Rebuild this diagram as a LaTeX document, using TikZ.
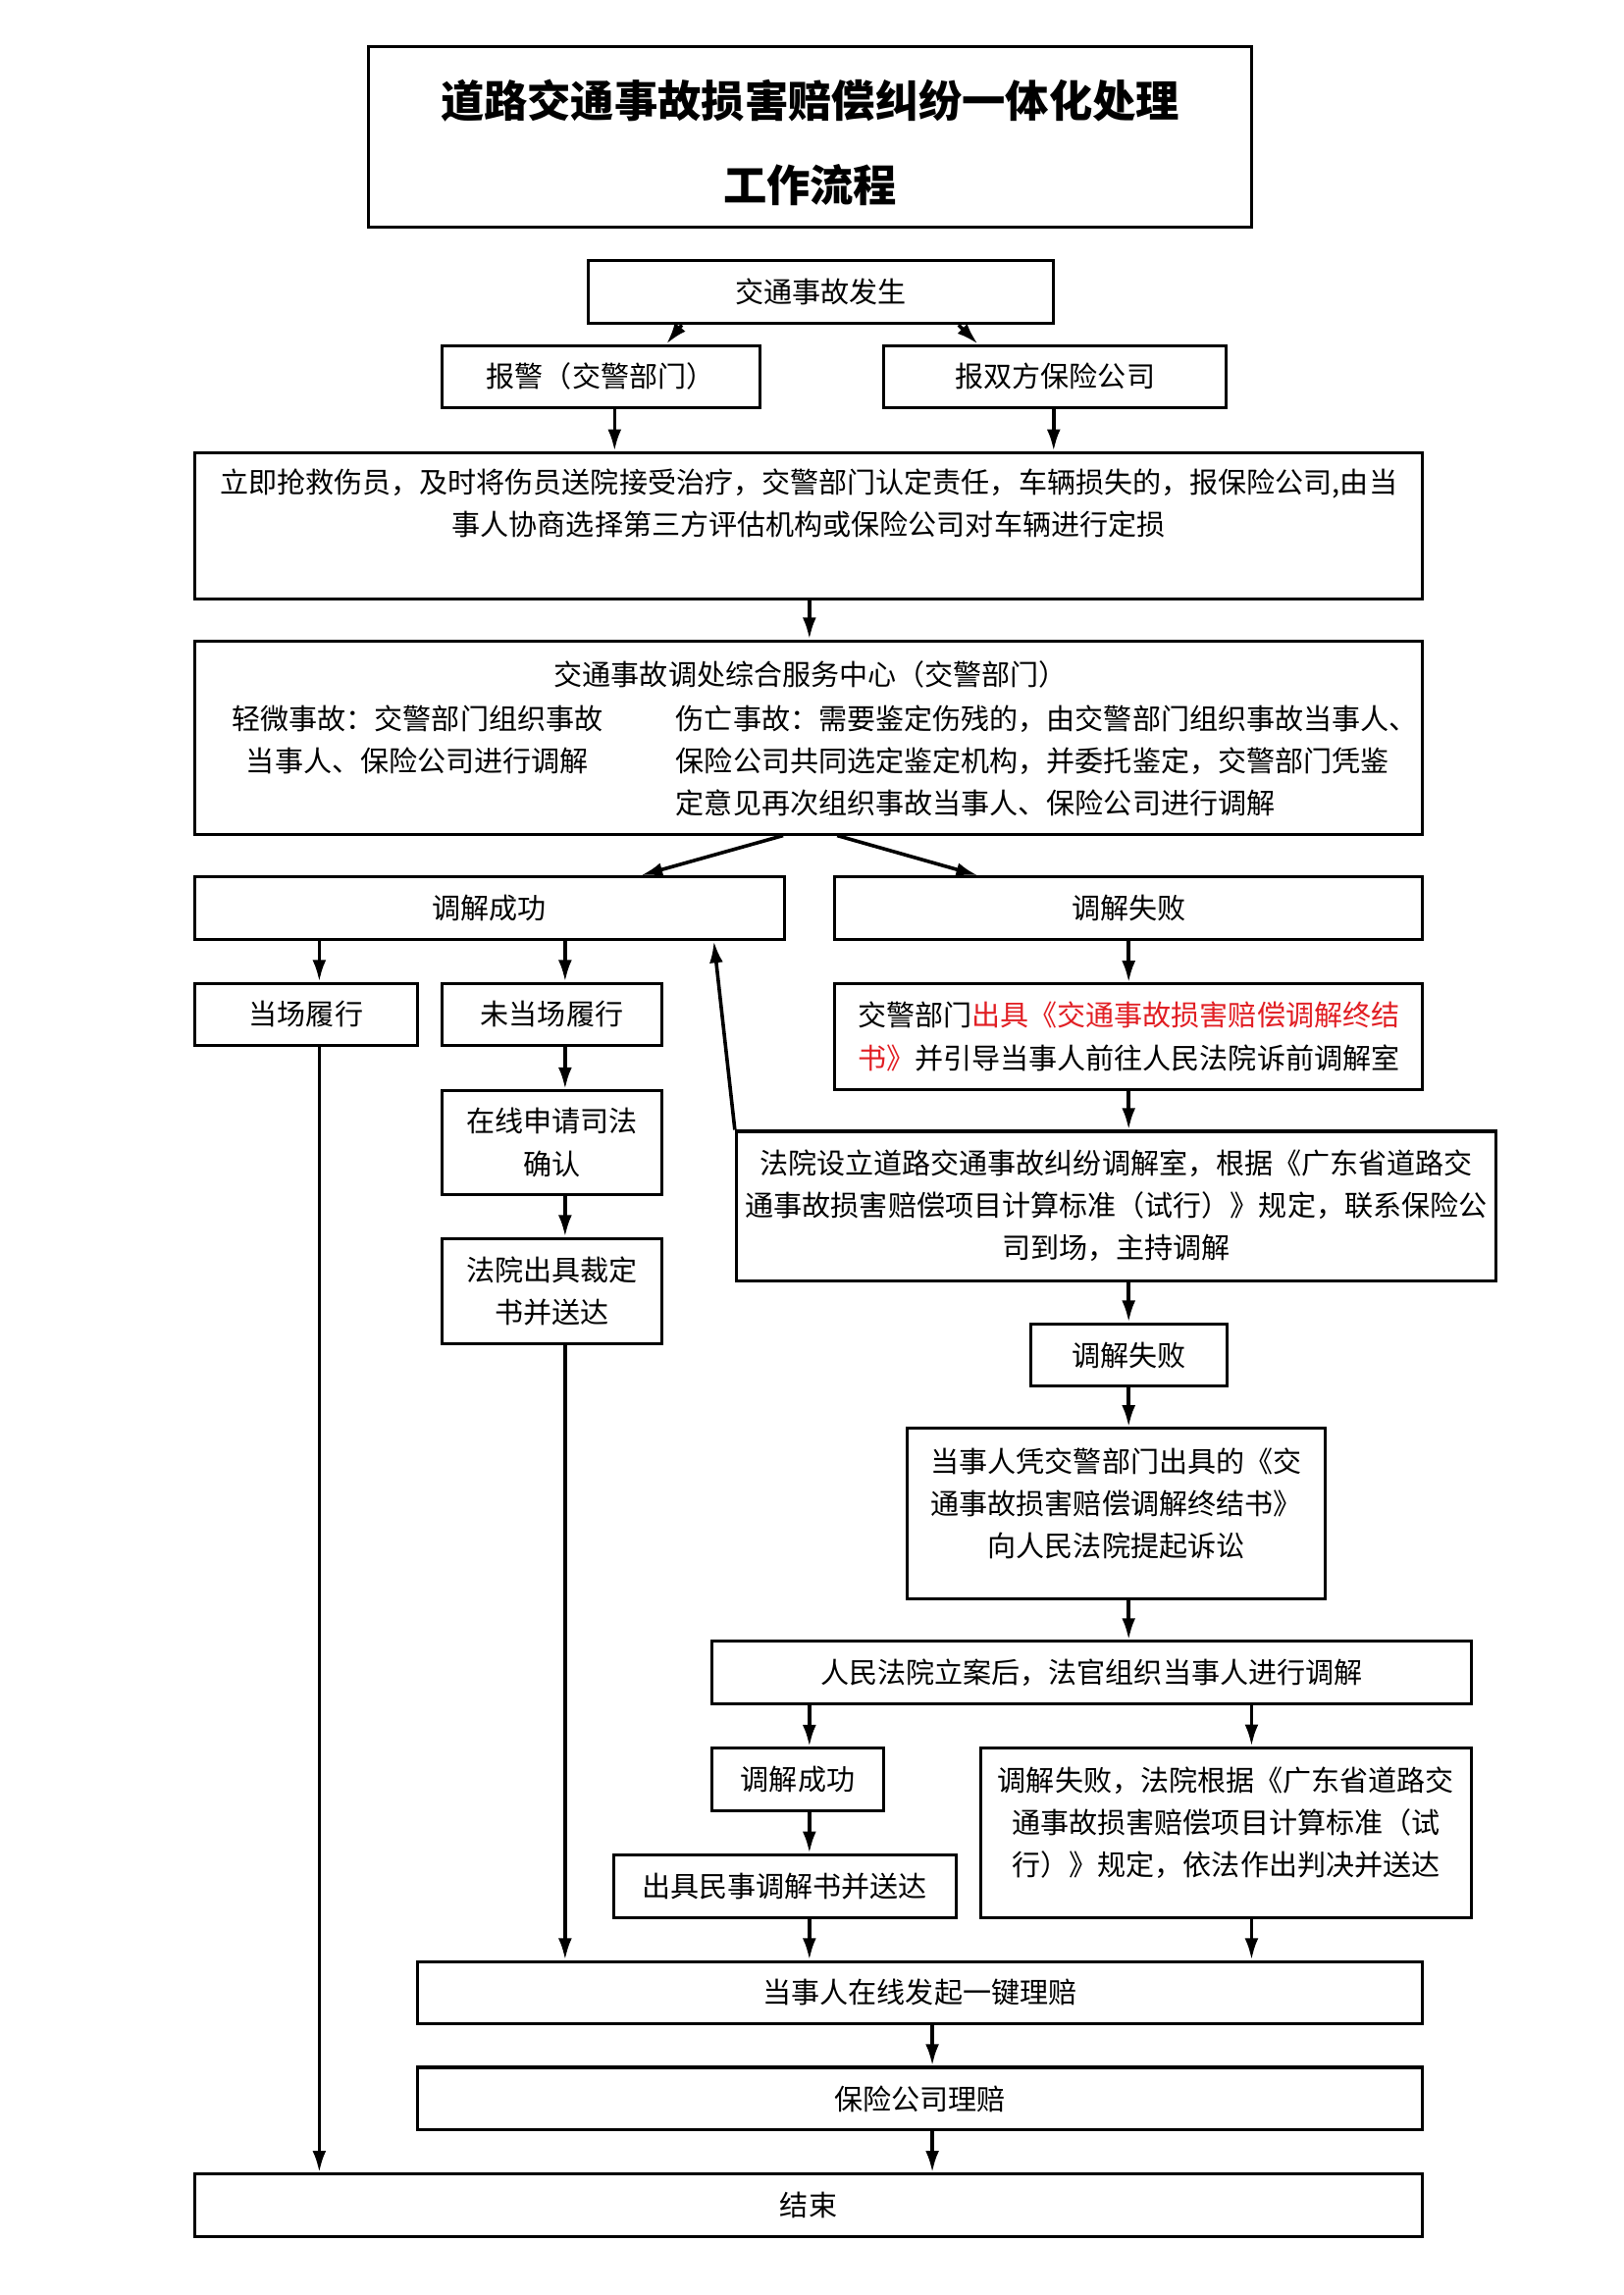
\documentclass[tikz,border=0pt]{standalone}
\usepackage{fontspec}
\setmainfont{Noto Sans CJK SC}
\usepackage{tikz}
\usetikzlibrary{positioning,arrows.meta}
\definecolor{docred}{RGB}{225,30,35}

\begin{document}
\begin{tikzpicture}[
    box/.style={draw, line width=1.1pt, inner sep=0pt},
    wh/.style 2 args={minimum width=#1cm, minimum height=#2cm},
    txt/.style={font=\fontsize{10.5}{15.6}\selectfont, align=center},
    arr/.style={-{Latex[length=8pt,width=5pt]}, line width=1.3pt}
]

\useasboundingbox (0,0) rectangle (21.0,-29.69);

\node[box, wh={11.42}{2.33}] (title) at (10.48,-1.77) {};
\node[font=\fontsize{16}{31}\selectfont\bfseries, align=center] (titletext) at (10.48,-1.84) {道路交通事故损害赔偿纠纷一体化处理\\工作流程};

\node[box, wh={6.02}{0.81}, txt] (accident) at (10.62,-3.78) {交通事故发生};
\node[box, wh={4.11}{0.80}, txt] (police) at (7.77,-4.87) {报警（交警部门）};
\node[box, wh={4.43}{0.80}, txt] (insure) at (13.65,-4.87) {报双方保险公司};

\node[box, wh={15.89}{1.89}] (rescue) at (10.46,-6.80) {};
\node[txt] (rescuetext) at (10.46,-6.51) {立即抢救伤员，及时将伤员送院接受治疗，交警部门认定责任，车辆损失的，报保险公司,由当\\事人协商选择第三方评估机构或保险公司对车辆进行定损};

\node[box, wh={15.89}{2.50}] (center) at (10.46,-9.54) {};
\node[txt] (centerhead) at (10.49,-8.73) {交通事故调处综合服务中心（交警部门）};
\node[txt] (minor) at (5.40,-9.57) {轻微事故：交警部门组织事故\\当事人、保险公司进行调解};
\node[txt, align=left, anchor=west] (injury) at (8.62,-9.84) {伤亡事故：需要鉴定伤残的，由交警部门组织事故当事人、\\保险公司共同选定鉴定机构，并委托鉴定，交警部门凭鉴\\定意见再次组织事故当事人、保险公司进行调解};

\node[box, wh={7.63}{0.81}, txt] (ok) at (6.33,-11.75) {调解成功};
\node[box, wh={7.61}{0.81}, txt] (fail) at (14.60,-11.75) {调解失败};
\node[box, wh={2.88}{0.80}, txt] (onsite) at (3.96,-13.12) {当场履行};
\node[box, wh={2.84}{0.80}, txt] (notonsite) at (7.14,-13.12) {未当场履行};
\node[box, wh={7.61}{1.36}, txt, align=left] (issue) at (14.60,-13.41) {交警部门\textcolor{docred}{出具《交通事故损害赔偿调解终结}\\\textcolor{docred}{书》}并引导当事人前往人民法院诉前调解室};
\node[box, wh={2.84}{1.34}, txt] (online) at (7.14,-14.78) {在线申请司法\\确认};
\node[box, wh={2.84}{1.36}, txt] (ruling) at (7.14,-16.70) {法院出具裁定\\书并送达};
\node[box, wh={9.83}{1.93}, txt] (court) at (14.44,-15.60) {法院设立道路交通事故纠纷调解室，根据《广东省道路交\\通事故损害赔偿项目计算标准（试行）》规定，联系保险公\\司到场，主持调解};
\node[box, wh={2.54}{0.81}, txt] (fail2) at (14.60,-17.53) {调解失败};
\node[box, wh={5.40}{2.20}] (sue) at (14.44,-19.58) {};
\node[txt] (suetext) at (14.44,-19.45) {当事人凭交警部门出具的《交\\通事故损害赔偿调解终结书》\\向人民法院提起诉讼};
\node[box, wh={9.83}{0.81}, txt] (file) at (14.12,-21.64) {人民法院立案后，法官组织当事人进行调解};
\node[box, wh={2.23}{0.81}, txt] (ok2) at (10.32,-23.02) {调解成功};
\node[box, wh={6.34}{2.20}] (judge) at (15.86,-23.71) {};
\node[txt] (judgetext) at (15.86,-23.58) {调解失败，法院根据《广东省道路交\\通事故损害赔偿项目计算标准（试\\行）》规定，依法作出判决并送达};
\node[box, wh={4.43}{0.81}, txt] (civil) at (10.15,-24.40) {出具民事调解书并送达};
\node[box, wh={13.01}{0.81}, txt] (claim) at (11.90,-25.78) {当事人在线发起一键理赔};
\node[box, wh={13.01}{0.81}, txt] (pay) at (11.90,-27.15) {保险公司理赔};
\node[box, wh={15.89}{0.81}, txt] (finish) at (10.46,-28.53) {结束};

\coordinate (xp) at (7.95,0);
\coordinate (xi) at (13.63,0);
\coordinate (xl) at (4.13,0);
\coordinate (xm) at (7.31,0);
\coordinate (xa) at (10.47,0);
\coordinate (xc) at (12.06,0);
\coordinate (xr) at (14.60,0);
\coordinate (xj) at (16.19,0);

\draw[arr] ([xshift=-1.80cm]accident.south) -- ([xshift=0.85cm]police.north);
\draw[arr] ([xshift=1.78cm]accident.south) -- ([xshift=-1.00cm]insure.north);
\draw[arr] (police.south -| xp) -- (rescue.north -| xp);
\draw[arr] (insure.south -| xi) -- (rescue.north -| xi);
\draw[arr] (rescue.south -| xa) -- (center.north -| xa);
\draw[arr] ([xshift=-0.33cm]center.south) -- ([xshift=1.96cm]ok.north);
\draw[arr] ([xshift=0.37cm]center.south) -- ([xshift=-1.95cm]fail.north);

\draw[arr] (ok.south -| xl) -- (onsite.north -| xl);
\draw[arr] (ok.south -| xm) -- (notonsite.north -| xm);
\draw[arr] (notonsite.south -| xm) -- (online.north -| xm);
\draw[arr] (online.south -| xm) -- (ruling.north -| xm);
\draw[arr] (ruling.south -| xm) -- (claim.north -| xm);
\draw[arr] (onsite.south -| xl) -- (finish.north -| xl);

\draw[arr] (fail.south -| xr) -- (issue.north -| xr);
\draw[arr] (issue.south -| xr) -- (court.north -| xr);
\draw[arr] (court.north west) -- ([xshift=-0.93cm]ok.south east);
\draw[arr] (court.south -| xr) -- (fail2.north -| xr);
\draw[arr] (fail2.south -| xr) -- (sue.north -| xr);
\draw[arr] (sue.south -| xr) -- (file.north -| xr);

\draw[arr] (file.south -| xa) -- (ok2.north -| xa);
\draw[arr] (file.south -| xj) -- (judge.north -| xj);
\draw[arr] (ok2.south -| xa) -- (civil.north -| xa);
\draw[arr] (civil.south -| xa) -- (claim.north -| xa);
\draw[arr] (judge.south -| xj) -- (claim.north -| xj);
\draw[arr] (claim.south -| xc) -- (pay.north -| xc);
\draw[arr] (pay.south -| xc) -- (finish.north -| xc);
\end{tikzpicture}
\end{document}
